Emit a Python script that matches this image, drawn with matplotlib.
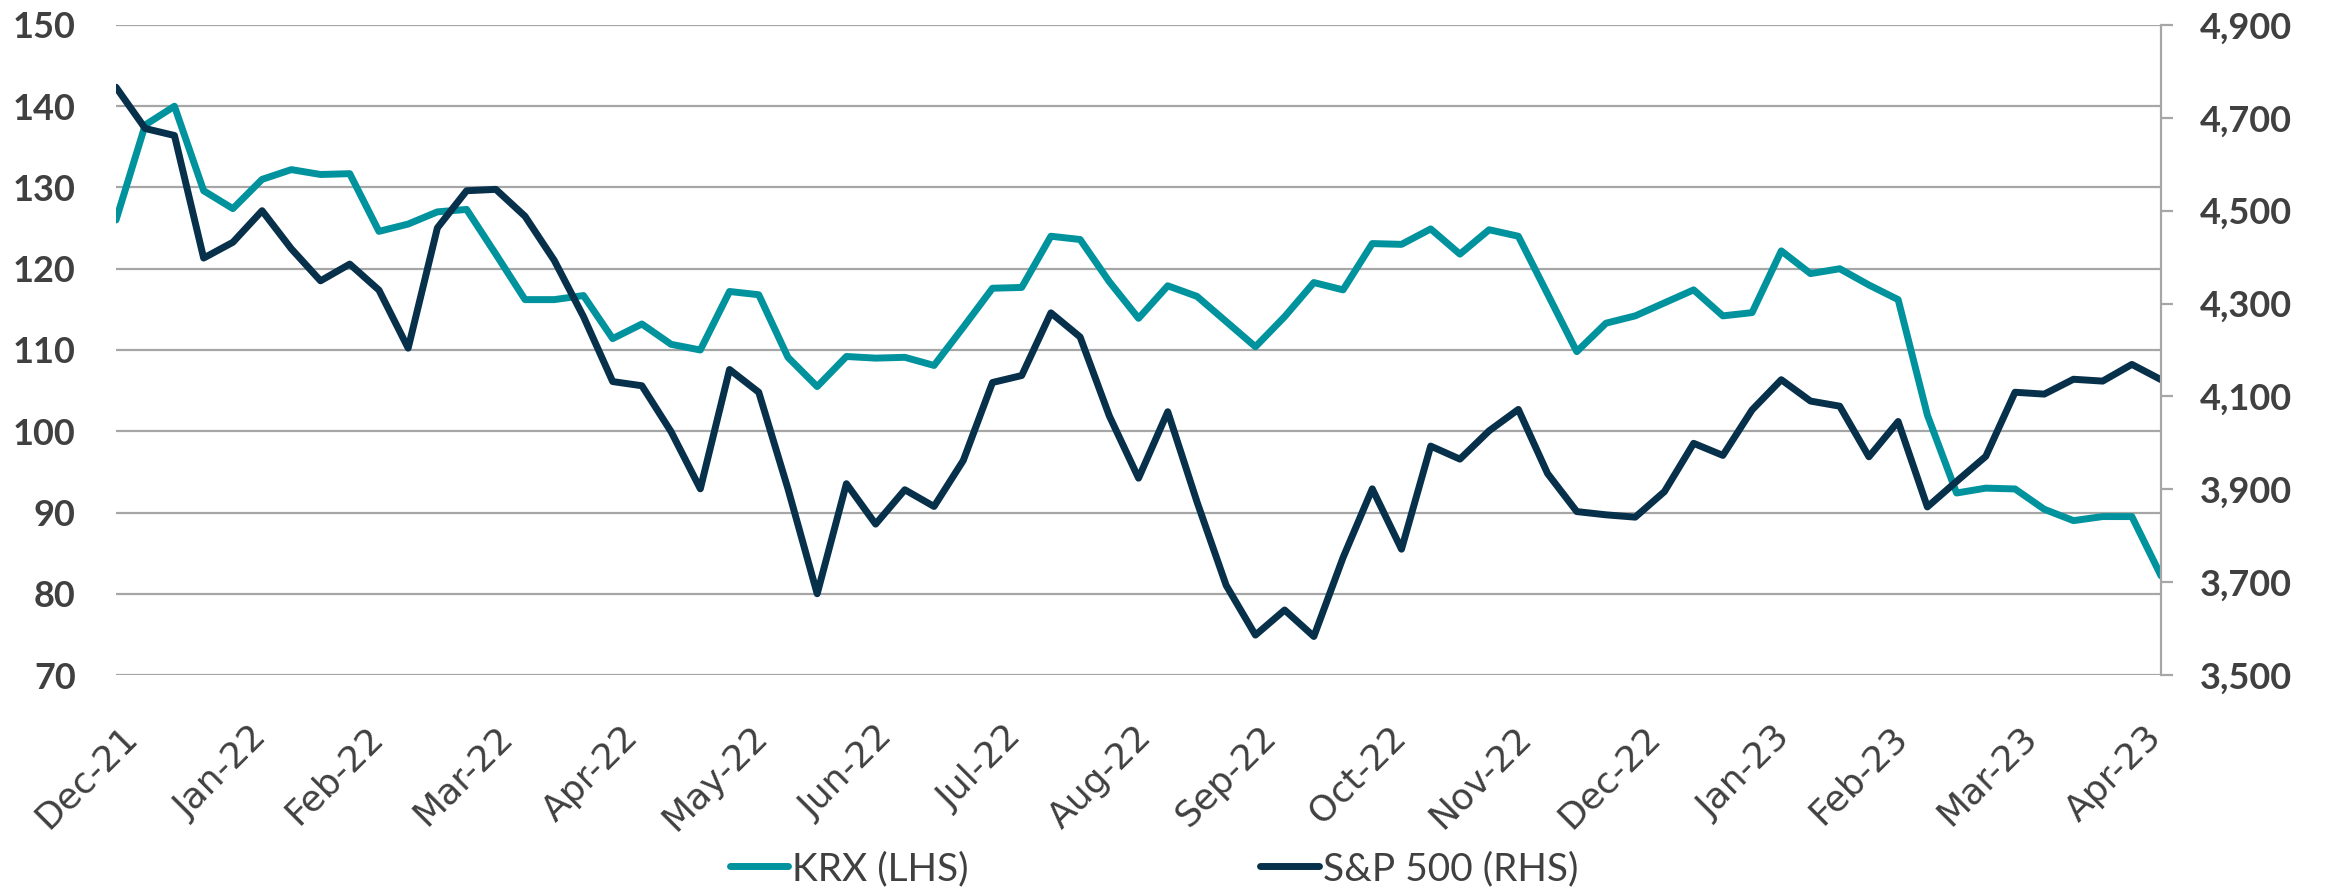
import matplotlib
matplotlib.use("Agg")
import matplotlib.pyplot as plt
import matplotlib.ticker as mticker
from matplotlib.transforms import ScaledTranslation
import pandas as pd

# weekly closes, Dec-21 to early May-23
week_start = "2021-12-31"
n_weeks = 71

krx = [126.0, 137.7, 140.0, 129.6, 127.4, 131.0, 132.2, 131.6, 131.7, 124.6,
       125.5, 127.0, 127.3, 121.8, 116.2, 116.2, 116.7, 111.4, 113.2, 110.7,
       110.0, 117.2, 116.8, 109.1, 105.5, 109.2, 109.0, 109.1, 108.1, 112.8,
       117.6, 117.7, 124.0, 123.6, 118.4, 113.9, 117.9, 116.6, 113.5, 110.4,
       114.1, 118.3, 117.4, 123.1, 123.0, 124.9, 121.8, 124.8, 124.0, 116.9,
       109.8, 113.3, 114.2, 115.8, 117.4, 114.2, 114.6, 122.2, 119.4, 120.0,
       118.0, 116.2, 102.0, 92.4, 93.0, 92.9, 90.4, 89.0, 89.5, 89.5,
       82.2]

spx = [4766, 4677, 4662, 4398, 4432, 4500, 4418, 4349, 4385, 4329,
       4204, 4463, 4543, 4546, 4488, 4393, 4272, 4132, 4123, 4024,
       3901, 4158, 4109, 3901, 3675, 3912, 3825, 3899, 3863, 3962,
       4130, 4145, 4280, 4228, 4058, 3924, 4067, 3873, 3693, 3586,
       3640, 3583, 3753, 3901, 3771, 3993, 3965, 4026, 4072, 3934,
       3852, 3845, 3840, 3895, 3999, 3973, 4071, 4136, 4090, 4079,
       3970, 4046, 3862, 3917, 3971, 4109, 4105, 4137, 4133, 4169,
       4136]

tick_labels = ["Dec-21", "Jan-22", "Feb-22", "Mar-22", "Apr-22", "May-22",
               "Jun-22", "Jul-22", "Aug-22", "Sep-22", "Oct-22", "Nov-22",
               "Dec-22", "Jan-23", "Feb-23", "Mar-23", "Apr-23"]

left_ticks = [70, 80, 90, 100, 110, 120, 130, 140, 150]
right_ticks = [3500, 3700, 3900, 4100, 4300, 4500, 4700, 4900]

dates = pd.date_range(week_start, periods=n_weeks, freq="7D")
tick_dates = pd.date_range("2021-12-01", periods=len(tick_labels), freq="MS") + pd.offsets.MonthEnd(0)

teal = "#00939E"
navy = "#07304B"
grid_c = "#A6A6A6"
text_c = "#404040"

plt.rcParams["font.family"] = ["Lato", "DejaVu Sans"]

fig = plt.figure(figsize=(23.25, 8.89), dpi=100)
ax = fig.add_axes([0.0499, 0.2407, 0.8796, 0.7312])
ax2 = ax.twinx()

l1, = ax.plot(dates, krx, color=teal, lw=5, solid_capstyle="round",
              solid_joinstyle="round", label="KRX (LHS)")
l2, = ax2.plot(dates, spx, color=navy, lw=5, solid_capstyle="round",
               solid_joinstyle="round", label="S&P 500 (RHS)")

ax.set_xlim(dates[0], dates[-1])
ax.set_ylim(70, 150)
ax.set_yticks(left_ticks)
ax2.set_ylim(3500, 4900)
ax2.set_yticks(right_ticks)
ax2.yaxis.set_major_formatter(mticker.FuncFormatter(lambda v, p: f"{v:,.0f}"))

ax.grid(axis="y", color=grid_c, lw=1.6)
ax.set_axisbelow(True)

for s in ["left", "top", "bottom", "right"]:
    ax.spines[s].set_visible(False)
for s in ["left", "top", "bottom"]:
    ax2.spines[s].set_visible(False)
ax2.spines["right"].set_color(grid_c)
ax2.spines["right"].set_linewidth(1.6)

ax.set_xticks(tick_dates)
ax.set_xticklabels(tick_labels)
ax.tick_params(axis="x", length=0, pad=32, labelsize=26, labelcolor=text_c)
ax.tick_params(axis="y", length=0, pad=29, labelsize=26, labelcolor=text_c)
ax2.tick_params(axis="y", length=8.6, width=1.6, color=grid_c, pad=19,
                labelsize=26, labelcolor=text_c)

shift = ScaledTranslation(4 / 100, 0, fig.dpi_scale_trans)
for lab in ax.get_xticklabels():
    lab.set_rotation(45)
    lab.set_ha("right")
    lab.set_va("top")
    lab.set_rotation_mode("anchor")
    lab.set_fontfamily("DejaVu Sans")
    lab.set_transform(lab.get_transform() + shift)
for lab in ax.get_yticklabels() + ax2.get_yticklabels():
    lab.set_fontweight("bold")

leg = fig.legend(handles=[l1, l2], loc="center", bbox_to_anchor=(1154 / 2325, 1 - 869 / 889),
                 ncol=2, frameon=False, fontsize=28, handlelength=1.5,
                 handletextpad=0.1, columnspacing=7.5, labelcolor=text_c)

fig.savefig("out.png", dpi=100)
